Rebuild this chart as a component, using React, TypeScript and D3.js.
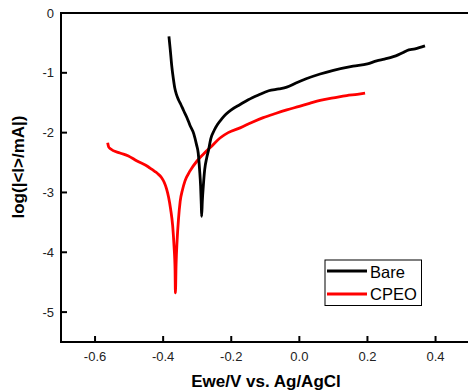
import React from "react";
import * as d3 from "d3";

const bareV = [-0.383,-0.379,-0.375,-0.370,-0.366,-0.361,-0.355,-0.348,-0.340,-0.330,-0.321,-0.310,-0.302,-0.297,-0.293,-0.290,-0.288,-0.287,-0.285,-0.282,-0.278,-0.272,-0.267,-0.260,-0.250,-0.240,-0.228,-0.215,-0.200,-0.174,-0.150,-0.120,-0.090,-0.060,-0.037,-0.010,0.020,0.061,0.100,0.158,0.200,0.227,0.250,0.276,0.290,0.305,0.315,0.340,0.369];
const bareLog = [-0.39,-0.62,-0.87,-1.10,-1.25,-1.36,-1.45,-1.53,-1.63,-1.75,-1.88,-2.02,-2.20,-2.34,-2.62,-2.89,-3.20,-3.40,-3.15,-2.89,-2.62,-2.42,-2.30,-2.10,-1.96,-1.86,-1.77,-1.69,-1.62,-1.53,-1.45,-1.37,-1.30,-1.27,-1.24,-1.17,-1.10,-1.02,-0.96,-0.89,-0.85,-0.80,-0.77,-0.73,-0.70,-0.66,-0.63,-0.60,-0.55];

const cpeoV = [-0.563,-0.560,-0.555,-0.527,-0.502,-0.478,-0.444,-0.434,-0.424,-0.415,-0.405,-0.397,-0.390,-0.384,-0.378,-0.372,-0.368,-0.365,-0.364,-0.362,-0.359,-0.355,-0.350,-0.343,-0.336,-0.321,-0.300,-0.282,-0.260,-0.233,-0.209,-0.174,-0.140,-0.106,-0.070,-0.037,0.000,0.030,0.061,0.100,0.139,0.170,0.193];
const cpeoLog = [-2.17,-2.24,-2.27,-2.34,-2.39,-2.47,-2.57,-2.61,-2.65,-2.69,-2.75,-2.83,-2.94,-3.08,-3.28,-3.56,-3.90,-4.30,-4.68,-4.20,-3.80,-3.45,-3.15,-2.95,-2.81,-2.64,-2.47,-2.36,-2.24,-2.09,-2.00,-1.92,-1.83,-1.75,-1.68,-1.62,-1.56,-1.51,-1.46,-1.42,-1.38,-1.36,-1.34];

const xTicks = [-0.6, -0.4, -0.2, 0.0, 0.2, 0.4];
const yTicks = [0, -1, -2, -3, -4, -5];
const seriesNames = ["Bare", "CPEO"];
const seriesColors = ["#000000", "#ff0000"];

export default function App() {
  const W = 468, H = 392;
  const x = d3.scaleLinear().domain([-0.7, 0.5]).range([61, 469.6]);
  const y = d3.scaleLinear().domain([-5.5, 0]).range([342, 13]);
  const line = d3.line<[number, number]>().x(d => x(d[0])).y(d => y(d[1])).curve(d3.curveMonotoneX);
  const bare = bareV.map((v, i) => [v, bareLog[i]] as [number, number]);
  const cpeo = cpeoV.map((v, i) => [v, cpeoLog[i]] as [number, number]);
  const font = "Liberation Sans, Arial, sans-serif";
  return (
    <svg width={W} height={H} style={{ position: "absolute", left: 0, top: 0 }} fontFamily={font}>
      <rect width={W} height={H} fill="#fff" />
      <path d={line(cpeo) || ""} fill="none" stroke={seriesColors[1]} strokeWidth={2.8} strokeLinejoin="round" />
      <path d={line(bare) || ""} fill="none" stroke={seriesColors[0]} strokeWidth={2.8} strokeLinejoin="round" />
      <line x1={x(-0.7)} x2={x(0.5)} y1={y(0)} y2={y(0)} stroke="#000" strokeWidth={2} />
      <line x1={x(-0.7)} x2={x(0.5)} y1={y(-5.5)} y2={y(-5.5)} stroke="#000" strokeWidth={2} />
      <line x1={x(-0.7)} x2={x(-0.7)} y1={y(0) - 1} y2={y(-5.5) + 1} stroke="#000" strokeWidth={2} />
      {yTicks.map(t => (
        <g key={"y" + t}>
          <line x1={x(-0.7)} x2={x(-0.7) + 6} y1={y(t)} y2={y(t)} stroke="#000" strokeWidth={2} />
          <text x={54} y={y(t) + 4.5} textAnchor="end" fontSize={13} fill="#222">{t}</text>
        </g>
      ))}
      {xTicks.map(t => (
        <g key={"x" + t}>
          <line x1={x(t)} x2={x(t)} y1={y(-5.5)} y2={y(-5.5) - 6} stroke="#000" strokeWidth={2} />
          <text x={x(t)} y={361} textAnchor="middle" fontSize={13} fill="#222">{t.toFixed(1)}</text>
        </g>
      ))}
      <text x={266} y={387} textAnchor="middle" fontSize={17} fontWeight="bold">Ewe/V vs. Ag/AgCl</text>
      <text transform={`translate(24,167) rotate(-90)`} textAnchor="middle" fontSize={17} fontWeight="bold">log(|&lt;I&gt;/mA|)</text>
      <rect x={325} y={260} width={96.5} height={45.5} fill="#fff" stroke="#000" strokeWidth={1} />
      {seriesNames.map((n, i) => (
        <g key={n}>
          <line x1={327} x2={367} y1={271 + i * 23} y2={271 + i * 23} stroke={seriesColors[i]} strokeWidth={2.8} />
          <text x={370} y={278 + i * 22} fontSize={16.5} fill="#000">{n}</text>
        </g>
      ))}
    </svg>
  );
}
